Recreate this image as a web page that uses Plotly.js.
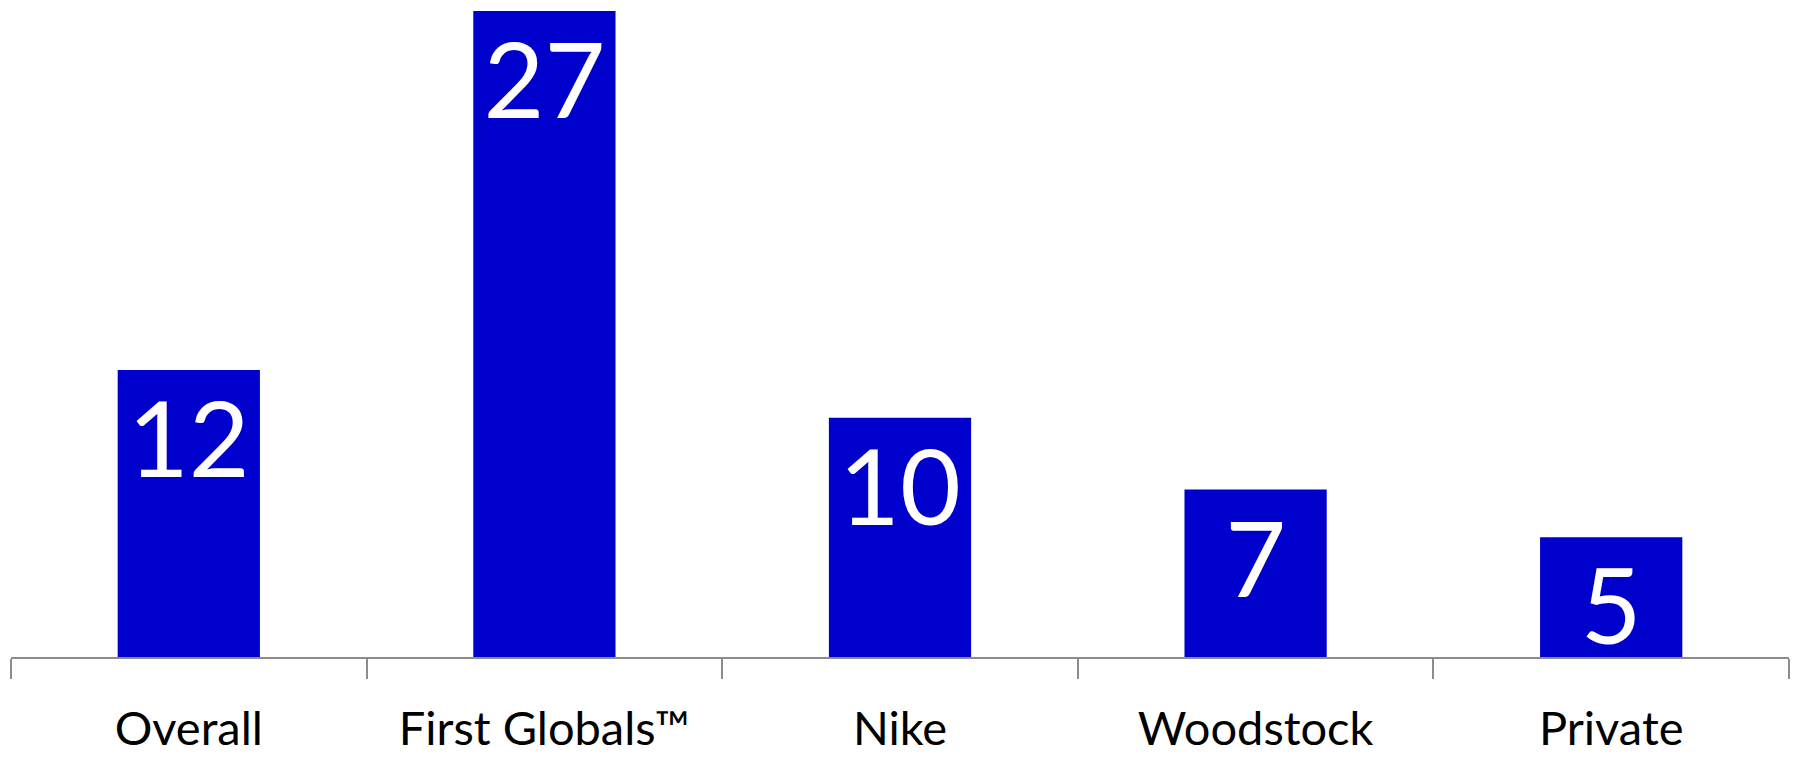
<!DOCTYPE html>
<html>
<head>
<meta charset="utf-8">
<script src="https://cdn.plot.ly/plotly-3.0.1.min.js"></script>
<style>html,body{margin:0;padding:0;background:#fff;}#chart{width:1797px;height:759px;}</style>
</head>
<body>
<div id="chart"></div>
<script>
const categories = ["Overall", "First Globals™", "Nike", "Woodstock", "Private"];
const values = [12, 27, 10, 7, 5];
const labels = ["12", "27", "10", "7", "5"];

const trace = {
  type: "bar",
  x: categories,
  y: values,
  text: labels,
  textposition: "inside",
  insidetextanchor: "end",
  constraintext: "none",
  textangle: 0,
  textfont: {family: "Lato, 'Open Sans', sans-serif", size: 105, color: "#ffffff"},
  marker: {color: "#0000CC", line: {width: 0}},
  width: 0.4,
  hoverinfo: "none"
};

const layout = {
  width: 1797,
  height: 759,
  margin: {l: 11, r: 8, t: 11, b: 102},
  paper_bgcolor: "#ffffff",
  plot_bgcolor: "#ffffff",
  showlegend: false,
  xaxis: {
    type: "category",
    tickson: "boundaries",
    ticks: "outside",
    ticklen: 20,
    tickwidth: 2,
    tickcolor: "#8c8c8c",
    showline: true,
    linecolor: "#8c8c8c",
    linewidth: 2,
    showgrid: false,
    zeroline: false,
    ticklabelstandoff: 30,
    tickfont: {family: "Lato, 'Open Sans', sans-serif", size: 47, color: "#000000"}
  },
  yaxis: {
    range: [0, 27],
    visible: false,
    showgrid: false,
    zeroline: false
  }
};

Plotly.newPlot("chart", [trace], layout, {displayModeBar: false, staticPlot: true});
</script>
</body>
</html>
